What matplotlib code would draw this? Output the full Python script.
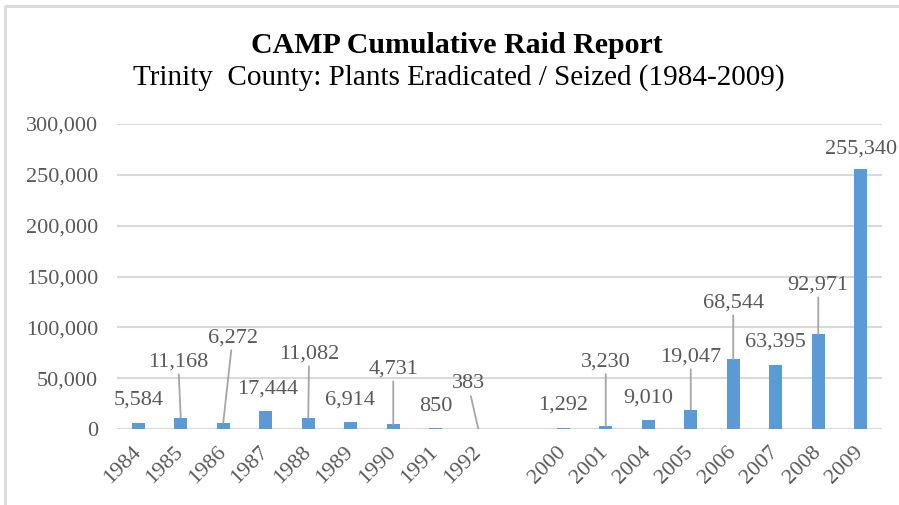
import matplotlib
matplotlib.use("Agg")
import matplotlib.pyplot as plt
from matplotlib.lines import Line2D
from matplotlib.ticker import FuncFormatter
import numpy as np

plt.rcParams['font.family'] = ['Liberation Serif', 'DejaVu Serif']

categories = ['1984', '1985', '1986', '1987', '1988', '1989', '1990', '1991', '1992', '',
              '2000', '2001', '2004', '2005', '2006', '2007', '2008', '2009']
values = [5584, 11168, 6272, 17444, 11082, 6914, 4731, 850, 383, np.nan,
          1292, 3230, 9010, 19047, 68544, 63395, 92971, 255340]
# label placement (x offset in category units, y in data units) and leader flag
label_dx = [0.0, -0.06, 0.22, 0.05, 0.02, -0.01, 0.0, 0.0, -0.24, 0,
            0.0, 0.0, 0.0, 0.0, 0.0, 0.0, 0.0, 0.0]
label_y = [28500, 65900, 89500, 39300, 73800, 28500, 59000, 22600, 44300, 0,
           23600, 65900, 30500, 70800, 123900, 85600, 141600, 275400]
leader = [False, True, True, False, True, False, True, False, True, False,
          False, True, False, True, True, False, True, False]
yticks = [0, 50000, 100000, 150000, 200000, 250000, 300000]

title = 'CAMP Cumulative Raid Report'
subtitle = 'Trinity  County: Plants Eradicated / Seized (1984-2009)'

bar_color = '#5b9bd5'
text_color = '#595959'
grid_color = '#d9d9d9'

fig = plt.figure(figsize=(8.99, 5.05), dpi=100)
ax = fig.add_axes([117 / 899, 1 - 429 / 505, 765 / 899, 305 / 505])

x = np.arange(len(categories))
ax.bar(x, values, width=0.31, color=bar_color, zorder=3)

ax.set_xlim(-0.5, len(categories) - 0.5)
ax.set_ylim(0, 300000)
ax.set_yticks(yticks)
ax.yaxis.set_major_formatter(FuncFormatter(lambda v, p: f'{int(v):,}'))
ax.grid(axis='y', color=grid_color, linewidth=1.5, zorder=0)
for s in ax.spines.values():
    s.set_visible(False)
ax.tick_params(axis='both', length=0, labelsize=16, colors=text_color)
ax.tick_params(axis='y', pad=13.5)
ax.set_xticks(x)
ax.set_xticklabels(categories, rotation=45, ha='right', va='center',
                   rotation_mode='anchor')
ax.tick_params(axis='x', pad=15)

for i, v in enumerate(values):
    if np.isnan(v):
        continue
    txt = f'{int(v):,}'
    if leader[i]:
        ax.annotate(txt, xy=(i, v), xytext=(i + label_dx[i], label_y[i]),
                    ha='center', va='center', fontsize=16, color=text_color,
                    arrowprops=dict(arrowstyle='-', color='#a6a6a6', lw=1.3,
                                    shrinkA=0, shrinkB=0), zorder=4)
    else:
        ax.text(i + label_dx[i], label_y[i], txt, ha='center', va='center',
                fontsize=16, color=text_color, zorder=4)

fig.text(457 / 899, 1 - 53 / 505, title, ha='center', va='baseline',
         fontsize=21.5, fontweight='bold', color='black')
fig.text(459 / 899, 1 - 85 / 505, subtitle, ha='center', va='baseline',
         fontsize=21, color='black')

# outer frame (top and left edges visible)
fig.add_artist(Line2D([5 / 899, 5 / 899, 1.0], [0.0, 1 - 5.5 / 505, 1 - 5.5 / 505],
                      transform=fig.transFigure, color='#d9d9d9', lw=2))

fig.savefig('out.png', dpi=100)
